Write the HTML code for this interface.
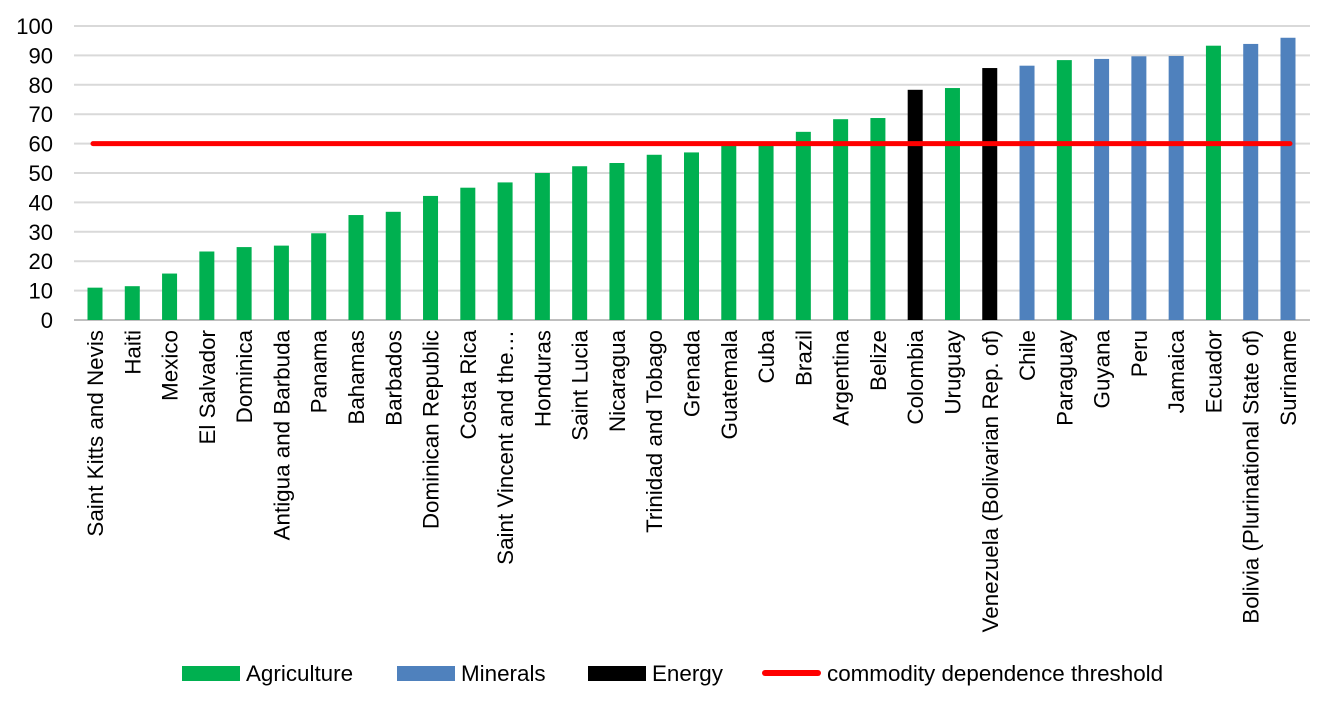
<!DOCTYPE html>
<html><head><meta charset="utf-8">
<style>
body{margin:0;background:#fff;}
svg text{font-family:"Liberation Sans Narrow","Liberation Sans",sans-serif;fill:#000;}
</style></head>
<body>
<svg id="chart" width="1327" height="708" viewBox="0 0 1327 708" xmlns="http://www.w3.org/2000/svg">
<g id="grid"></g>
<g id="yaxis"></g>
<g id="bars"></g>
<g id="xaxis"></g>
<g id="thr"></g>
<g>
  <g><rect x="182" y="666" width="58" height="15" fill="#00b050"/><text x="246" y="681" font-size="22.4">Agriculture</text></g>
  <g><rect x="397" y="666" width="58" height="15" fill="#4f81bd"/><text x="461" y="681" font-size="22.4">Minerals</text></g>
  <g><rect x="588" y="666" width="58" height="15" fill="#000"/><text x="652" y="681" font-size="22.4">Energy</text></g>
  <g><line x1="765" y1="673" x2="818" y2="673" stroke="#ff0000" stroke-width="6" stroke-linecap="round"/><text x="827" y="681" font-size="22.4">commodity dependence threshold</text></g>
</g>
</svg>
<script>
const categories=["Saint Kitts and Nevis","Haiti","Mexico","El Salvador","Dominica","Antigua and Barbuda","Panama","Bahamas","Barbados","Dominican Republic","Costa Rica","Saint Vincent and the…","Honduras","Saint Lucia","Nicaragua","Trinidad and Tobago","Grenada","Guatemala","Cuba","Brazil","Argentina","Belize","Colombia","Uruguay","Venezuela (Bolivarian Rep. of)","Chile","Paraguay","Guyana","Peru","Jamaica","Ecuador","Bolivia (Plurinational State of)","Suriname"];
const values=[11,11.5,15.8,23.3,24.8,25.3,29.5,35.7,36.8,42.2,45,46.8,50,52.3,53.4,56.2,57,60,60.5,64,68.3,68.7,78.3,78.9,85.7,86.5,88.4,88.8,89.7,89.8,93.3,93.9,96];
const types=["A","A","A","A","A","A","A","A","A","A","A","A","A","A","A","A","A","A","A","A","A","A","E","A","E","M","A","M","M","M","A","M","M"];
const yTicks=[0,10,20,30,40,50,60,70,80,90,100];
const threshold=60;
const ns="http://www.w3.org/2000/svg";
const colors={A:"#00b050",M:"#4f81bd",E:"#000000"};
const y0=320,y100=26,xFirst=95,xLast=1288,barW=15;
const y=v=>y0-(v/100)*(y0-y100);
const step=(xLast-xFirst)/(categories.length-1);
const x=i=>xFirst+i*step;
function mk(tag,attrs,parent){const e=document.createElementNS(ns,tag);for(const k in attrs)e.setAttribute(k,attrs[k]);parent.appendChild(e);return e;}
const grid=document.getElementById('grid'),ya=document.getElementById('yaxis'),bars=document.getElementById('bars'),xa=document.getElementById('xaxis'),thr=document.getElementById('thr');
yTicks.forEach(t=>{
  const l=mk('line',{x1:74,x2:1310,y1:y(t),y2:y(t),stroke:t===0?'#bfbfbf':'#d9d9d9','stroke-width':2},grid);
  
  
  const tx=mk('text',{x:53,y:y(t)+8,'font-size':22,'text-anchor':'end'},ya);
  tx.textContent=t;
  
  
});
categories.forEach((c,i)=>{
  const r=mk('rect',{x:x(i)-barW/2,y:y(values[i]),width:barW,height:y0-y(values[i]),fill:colors[types[i]]},bars);
  
  
  const t=mk('text',{x:0,y:0,'font-size':22.4,'text-anchor':'end',transform:`translate(${x(i)+8},330) rotate(-90)`},xa);
  t.textContent=c;
  
  
});
const tl=mk('line',{x1:x(0)-2,x2:x(categories.length-1)+2,y1:y(threshold),y2:y(threshold),stroke:'#ff0000','stroke-width':5,'stroke-linecap':'round'},thr);


</script>
</body></html>
